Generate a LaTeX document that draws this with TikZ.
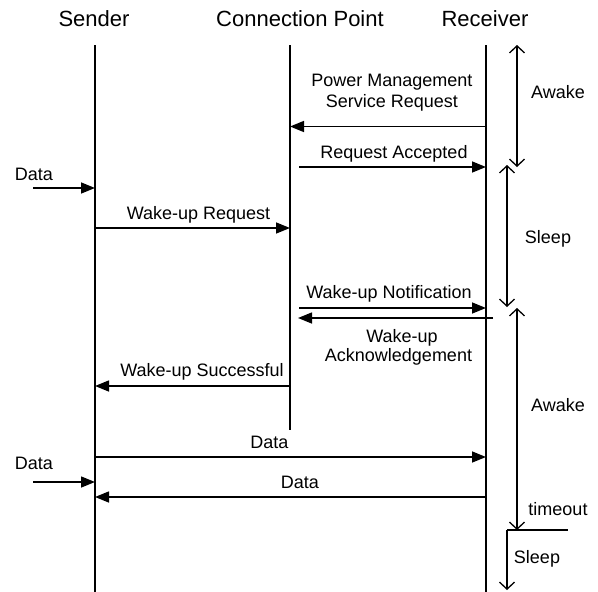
\documentclass[tikz,border=0pt]{standalone}
\usepackage{fontspec}
\setmainfont{Liberation Sans}
\usetikzlibrary{arrows.meta}
\begin{document}
\begin{tikzpicture}[x=1pt,y=-1pt,
  head/.style={anchor=base,inner sep=0pt,font=\fontsize{22}{26}\selectfont},
  lbl/.style={anchor=base,inner sep=0pt,font=\fontsize{18}{21}\selectfont},
  life/.style={line width=1.6pt},
  msg/.style={line width=1.5pt,-{Triangle[length=14pt,width=11pt]}},
  barb/.style={Straight Barb[length=7pt,width=15pt,line width=1.3pt]},
  span/.style={line width=1.3pt,{Straight Barb[length=7pt,width=15pt]}-{Straight Barb[length=7pt,width=15pt]}},
  down/.style={line width=1.3pt,-{Straight Barb[length=7pt,width=15pt]}},
]
\useasboundingbox (0,0) rectangle (598,592);

% participants
\node[head] (hs) at (94,26) {Sender};
\node[head] (hc) at (300,26) {Connection Point};
\node[head] (hr) at (485,26) {Receiver};

% lifelines
\coordinate (s0) at (95,45);  \coordinate (s1) at (95,592);
\coordinate (c0) at (290,45); \coordinate (c1) at (290,430);
\coordinate (r0) at (486,45); \coordinate (r1) at (486,592);
\draw[life] (s0) -- (s1);
\draw[life] (c0) -- (c1);
\draw[line width=1.2pt] (r0) -- (r1);

% message end points
\coordinate (m1a) at (486,126.5); \coordinate (m1b) at (290,126.5);
\coordinate (m2a) at (299,167);   \coordinate (m2b) at (486,167);
\coordinate (d1a) at (33,188);    \coordinate (d1b) at (95,188);
\coordinate (m3a) at (95,228);    \coordinate (m3b) at (290,228);
\coordinate (m4a) at (299,308);   \coordinate (m4b) at (486,308);
\coordinate (m5a) at (493,318);   \coordinate (m5b) at (298,318);
\coordinate (m6a) at (290,386);   \coordinate (m6b) at (95,386);
\coordinate (m7a) at (95,457);    \coordinate (m7b) at (486,457);
\coordinate (d2a) at (33,482);    \coordinate (d2b) at (95,482);
\coordinate (m8a) at (486,497);   \coordinate (m8b) at (95,497);

% messages
\draw[msg] (m1a) -- (m1b);
\draw[msg] (m2a) -- (m2b);
\draw[msg] (d1a) -- (d1b);
\draw[msg] (m3a) -- (m3b);
\draw[msg] (m4a) -- (m4b);
\draw[msg] (m5a) -- (m5b);
\draw[msg] (m6a) -- (m6b);
\draw[msg] (m7a) -- (m7b);
\draw[msg] (d2a) -- (d2b);
\draw[msg] (m8a) -- (m8b);

% message labels
\node[lbl] (l1a) at (392,86.5) {Power Management};
\node[lbl] (l1b) at (392,107.5) {Service Request};
\node[lbl] (l2) at (394,158) {Request Accepted};
\node[lbl] (ld1) at (34,180) {Data};
\node[lbl] (l3) at (198.5,219) {Wake-up Request};
\node[lbl] (l4) at (389,298) {Wake-up Notification};
\node[lbl] (l5a) at (402,342) {Wake-up};
\node[lbl] (l5b) at (398.5,361) {Acknowledgement};
\node[lbl] (l6) at (202,376) {Wake-up Successful};
\node[lbl] (l7) at (269.5,448) {Data};
\node[lbl] (ld2) at (34,469) {Data};
\node[lbl] (l8) at (300,488) {Data};

% receiver power states
\coordinate (a1t) at (517,45);  \coordinate (a1b) at (517,167);
\coordinate (p1t) at (507,165); \coordinate (p1b) at (507,307);
\coordinate (a2t) at (517,308); \coordinate (a2b) at (517,530);
\coordinate (t0) at (507,530);  \coordinate (t1) at (568,530);
\coordinate (p2b) at (507,590);
\draw[span] (a1t) -- (a1b);
\draw[span] (p1t) -- (p1b);
\draw[span] (a2t) -- (a2b);
\draw[line width=1.3pt] (t0) -- (t1);
\draw[down] (t0) -- (p2b);

\node[lbl] (sa1) at (558,98) {Awake};
\node[lbl] (sp1) at (548,243) {Sleep};
\node[lbl] (sa2) at (558,411) {Awake};
\node[lbl] (sto) at (558,515) {timeout};
\node[lbl] (sp2) at (537,563) {Sleep};
\end{tikzpicture}
\end{document}
